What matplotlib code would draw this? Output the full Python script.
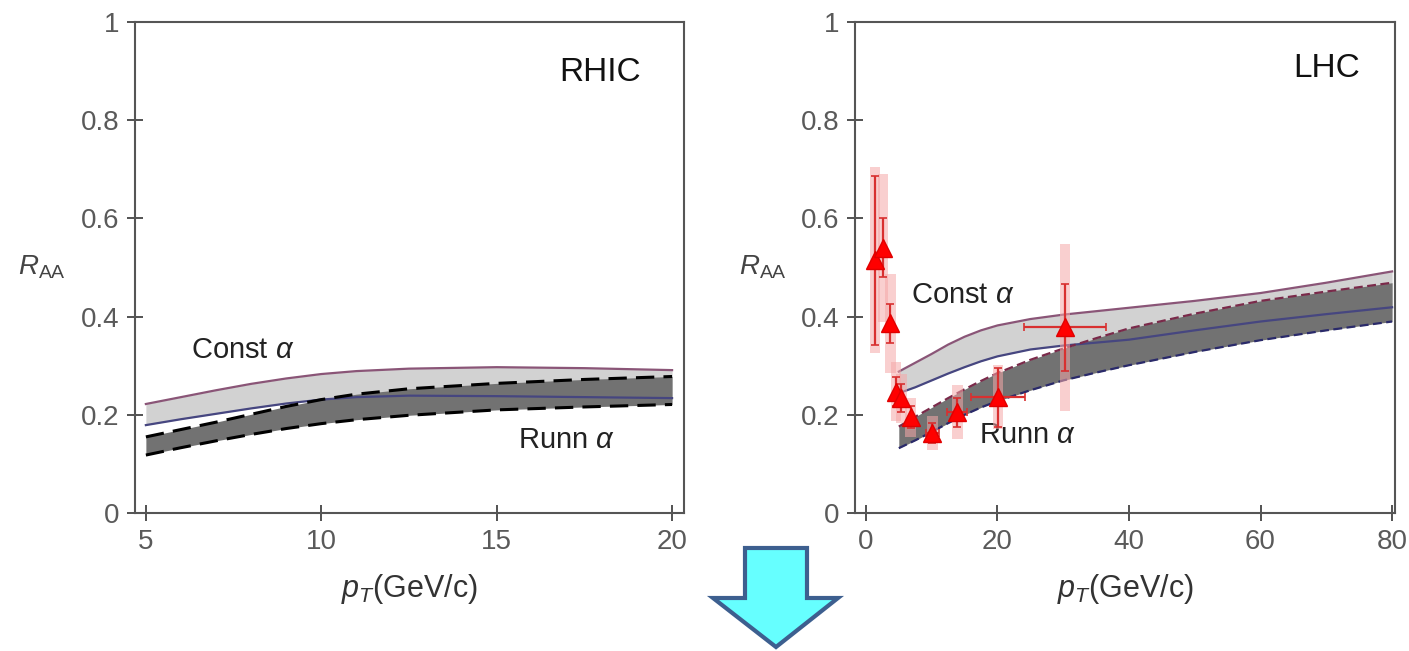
#!/usr/bin/env python3
"""
R_AA vs p_T for heavy flavour: RHIC and LHC bands with constant and running coupling.
"""

import matplotlib
matplotlib.use("Agg")
import matplotlib.pyplot as plt
from matplotlib.patches import Polygon, Rectangle

plt.rcParams['font.family'] = ['Liberation Sans', 'DejaVu Sans']
plt.rcParams['mathtext.fontset'] = 'custom'
plt.rcParams['mathtext.rm'] = 'Liberation Sans'
plt.rcParams['mathtext.it'] = 'Liberation Sans:italic'

# ---- RHIC curves ----
rhic_pt = [5, 6, 7, 8, 9, 10, 11, 12.5, 15, 17.5, 20]
rhic_const_hi = [0.222, 0.236, 0.250, 0.263, 0.274, 0.283, 0.289, 0.294, 0.297, 0.295, 0.291]
rhic_const_lo = [0.179, 0.191, 0.202, 0.213, 0.223, 0.231, 0.236, 0.239, 0.238, 0.236, 0.234]
rhic_runn_hi = [0.155, 0.170, 0.185, 0.201, 0.217, 0.231, 0.242, 0.253, 0.264, 0.272, 0.278]
rhic_runn_lo = [0.118, 0.133, 0.147, 0.160, 0.172, 0.182, 0.190, 0.199, 0.210, 0.216, 0.221]

# ---- LHC curves ----
lhc_pt = [5, 7.5, 10, 12.5, 15, 17.5, 20, 25, 30, 35, 40, 50, 60, 70, 80]
lhc_const_hi = [0.288, 0.306, 0.324, 0.343, 0.359, 0.372, 0.382, 0.395, 0.404, 0.411, 0.418,
                0.432, 0.448, 0.469, 0.492]
lhc_const_lo = [0.244, 0.256, 0.270, 0.284, 0.297, 0.309, 0.319, 0.333, 0.341, 0.347, 0.353,
                0.372, 0.390, 0.405, 0.419]
lhc_runn_hi = [0.176, 0.196, 0.215, 0.234, 0.252, 0.269, 0.285, 0.312, 0.335, 0.356, 0.376,
               0.406, 0.432, 0.451, 0.469]
lhc_runn_lo = [0.132, 0.148, 0.165, 0.183, 0.200, 0.215, 0.228, 0.250, 0.270, 0.286, 0.301,
               0.328, 0.352, 0.372, 0.390]

# ---- LHC data points ----
data_pt = [1.4, 2.6, 3.7, 4.6, 5.4, 6.8, 10.1, 13.9, 20.1, 30.3]
data_raa = [0.515, 0.540, 0.386, 0.247, 0.234, 0.195, 0.163, 0.205, 0.236, 0.378]
data_xerr = [0, 0, 0, 0, 0, 0, 1.0, 1.5, 4.1, 6.2]
data_stat = [0.172, 0.060, 0.040, 0.030, 0.028, 0.022, 0.020, 0.030, 0.060, 0.088]
data_syst = [0.19, 0.15, 0.10, 0.06, 0.05, 0.04, 0.035, 0.055, 0.065, 0.17]

y_ticks = [0, 0.2, 0.4, 0.6, 0.8, 1.0]
y_tick_labels = ['0', '0.2', '0.4', '0.6', '0.8', '1']


def style_axes(ax, xticks):
    """Frame, ticks and labels shared by both panels."""
    for sp in ax.spines.values():
        sp.set_color('#555555')
        sp.set_linewidth(1.5)
    ax.set_ylim(0, 1)
    ax.set_xticks(xticks)
    ax.set_xticklabels([str(t) for t in xticks])
    ax.set_yticks(y_ticks)
    ax.set_yticklabels(y_tick_labels)
    ax.tick_params(direction='inout', length=11, width=1.3, color='#444444',
                   labelsize=20, labelcolor='#5a5a5a', pad=6)
    ax.set_xlabel(r'$p_T$(GeV/c)', fontsize=22, color='#333333', labelpad=12)
    ax.set_ylabel(r'$R_{\rm AA}$', fontsize=20, color='#444444', rotation=0,
                  ha='center', va='center')
    ax.yaxis.set_label_coords(-0.17, 0.5)


def draw_bands(ax, pt, c_hi, c_lo, r_hi, r_lo, runn_style):
    ax.fill_between(pt, c_lo, c_hi, color='#d2d2d2', lw=0, zorder=1)
    ax.fill_between(pt, r_lo, r_hi, color='#727272', lw=0, zorder=2)
    ax.plot(pt, c_hi, color='#8a5577', lw=1.6, zorder=3)
    ax.plot(pt, c_lo, color='#464680', lw=1.6, zorder=3)
    ax.plot(pt, r_hi, color=runn_style['hi'], lw=runn_style['lw'],
            ls=(0, runn_style['dash']), zorder=4)
    ax.plot(pt, r_lo, color=runn_style['lo'], lw=runn_style['lw'],
            ls=(0, runn_style['dash']), zorder=4)


fig = plt.figure(figsize=(14.09, 6.51), dpi=100)

# Panel 1: RHIC
ax1 = fig.add_axes([135 / 1409, 138 / 651, 549 / 1409, 491 / 651])
draw_bands(ax1, rhic_pt, rhic_const_hi, rhic_const_lo, rhic_runn_hi, rhic_runn_lo,
           {'hi': 'black', 'lo': 'black', 'lw': 2.2, 'dash': (6, 3)})
ax1.set_xlim(4.69, 20.34)
style_axes(ax1, [5, 10, 15, 20])
ax1.text(19.1, 0.898, 'RHIC', fontsize=24, ha='right', va='center', color='#111111')
ax1.text(6.3, 0.332, r'Const $\alpha$', fontsize=21, ha='left', va='center', color='#222222')
ax1.text(15.6, 0.149, r'Runn $\alpha$', fontsize=21, ha='left', va='center', color='#222222')

# Panel 2: LHC
ax2 = fig.add_axes([855 / 1409, 138 / 651, 540 / 1409, 491 / 651])
draw_bands(ax2, lhc_pt, lhc_const_hi, lhc_const_lo, lhc_runn_hi, lhc_runn_lo,
           {'hi': '#7a2a4a', 'lo': '#2a2a6a', 'lw': 1.6, 'dash': (4, 2)})
ax2.set_xlim(-1.66, 80.44)
style_axes(ax2, [0, 20, 40, 60, 80])

# systematic boxes
for x, y, s in zip(data_pt, data_raa, data_syst):
    ax2.add_patch(Rectangle((x - 0.8, y - s), 1.6, 2 * s, facecolor='#f5a8a8',
                            edgecolor='none', alpha=0.55, zorder=5))
ax2.errorbar(data_pt, data_raa, xerr=data_xerr, yerr=data_stat, fmt='none',
             ecolor='#d83030', elinewidth=1.6, capsize=3, capthick=1.2, zorder=6)
ax2.plot(data_pt, data_raa, ls='none', marker='^', ms=13, color='#ff0000',
         markeredgecolor='#e00000', zorder=7)

ax2.text(75.1, 0.906, 'LHC', fontsize=24, ha='right', va='center', color='#111111')
ax2.text(6.8, 0.444, r'Const $\alpha$', fontsize=21, ha='left', va='center', color='#222222')
ax2.text(17.2, 0.159, r'Runn $\alpha$', fontsize=21, ha='left', va='center', color='#222222')

# down arrow between panels
arrow_px = [(745, 548), (807, 548), (807, 598), (838, 598), (776, 647),
            (713, 598), (745, 598)]
arrow = Polygon([(x / 1409, 1 - y / 651) for x, y in arrow_px], closed=True,
                transform=fig.transFigure, facecolor='#66ffff',
                edgecolor='#3d5f8f', lw=3, joinstyle='miter')
fig.patches.append(arrow)

fig.savefig('out.png', dpi=100)
plt.close(fig)
